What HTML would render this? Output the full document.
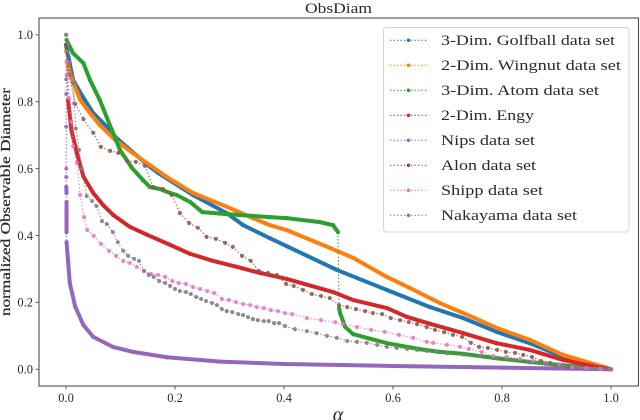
<!DOCTYPE html>
<html lang="en">
<head>
<meta charset="utf-8">
<title>ObsDiam</title>
<style>
html,body{margin:0;padding:0;background:#fff;width:640px;height:420px;overflow:hidden}
svg{display:block}
text{font-family:"Liberation Serif",serif;fill:#2b2b2b}
</style>
</head>
<body>
<svg id="chart" xmlns="http://www.w3.org/2000/svg" width="640" height="420" viewBox="0 0 640 420">
<defs><clipPath id="plot-clip"><rect x="39" y="18" width="600" height="368"/></clipPath></defs>
<rect x="39" y="18" width="600" height="368" fill="#fff"/>
<g id="series-layer" clip-path="url(#plot-clip)"></g>
<rect x="39" y="18" width="599.5" height="368" fill="none" stroke="#505050" stroke-width="1.1"/>
<g id="tick-layer"></g>
<text x="338.5" y="13" font-size="15" text-anchor="middle" textLength="67" lengthAdjust="spacingAndGlyphs">ObsDiam</text>
<text transform="translate(10,202) rotate(-90)" font-size="14" text-anchor="middle" textLength="228" lengthAdjust="spacingAndGlyphs" stroke="#2b2b2b" stroke-width="0.25">normalized Observable Diameter</text>
<text x="338" y="421" font-size="20" text-anchor="middle" font-style="italic">α</text>
<g id="legend-layer"></g>
</svg>
<script>
const xTicks = [0, 0.2, 0.4, 0.6, 0.8, 1];
const yTicks = [0, 0.2, 0.4, 0.6, 0.8, 1];

const golfballAlpha = [0,0.002,0.005,0.013,0.031,0.05,0.075,0.09,0.154,0.169,0.233,0.295,0.325,0.374,0.405,0.497,0.589,0.668,0.729,0.79,0.851,0.912,0.993,1];
const golfballValues = [0.97,0.95,0.93,0.865,0.814,0.766,0.725,0.695,0.605,0.587,0.521,0.467,0.431,0.392,0.368,0.297,0.237,0.186,0.153,0.112,0.078,0.037,0.004,0];

const wingnutAlpha = [0,0.002,0.005,0.01,0.02,0.026,0.044,0.062,0.09,0.123,0.185,0.233,0.295,0.343,0.374,0.405,0.484,0.527,0.589,0.631,0.686,0.729,0.79,0.851,0.912,0.993,1];
const wingnutValues = [0.95,0.92,0.9,0.87,0.83,0.805,0.766,0.73,0.686,0.646,0.575,0.527,0.486,0.452,0.431,0.416,0.363,0.333,0.276,0.243,0.198,0.168,0.124,0.088,0.043,0.004,0];

const atomAlpha = [0.001,0.013,0.032,0.044,0.062,0.084,0.099,0.121,0.141,0.154,0.172,0.191,0.203,0.228,0.25,0.295,0.374,0.405,0.466,0.49,0.499,0.501,0.503,0.512,0.527,0.589,0.65,0.686,0.729,0.79,0.851,0.912,0.993,1];
const atomValues = [0.985,0.945,0.915,0.865,0.805,0.716,0.656,0.602,0.566,0.545,0.539,0.527,0.521,0.5,0.47,0.464,0.455,0.452,0.44,0.431,0.41,0.183,0.168,0.127,0.105,0.078,0.06,0.052,0.046,0.033,0.022,0.012,0.001,0];

const engyAlpha = [0,0.002,0.004,0.01,0.02,0.032,0.05,0.068,0.087,0.117,0.149,0.191,0.228,0.27,0.314,0.356,0.405,0.49,0.527,0.589,0.625,0.668,0.729,0.79,0.851,0.912,0.974,1];
const engyValues = [0.97,0.88,0.805,0.715,0.646,0.576,0.527,0.491,0.461,0.426,0.402,0.372,0.345,0.324,0.306,0.288,0.27,0.231,0.207,0.183,0.157,0.136,0.108,0.078,0.058,0.028,0.007,0];

const nipsAlpha = [0.0005,0.0005,0.0005,0.0005,0.0005,0.0005,0.0005,0.001,0.001,0.001,0.001,0.001,0.001,0.001,0.001,0.001,0.001,0.004,0.007,0.017,0.032,0.05,0.086,0.123,0.185,0.283,0.4,0.6,0.8,1];
const nipsValues = [1,0.867,0.823,0.725,0.6,0.575,0.545,0.527,0.5,0.48,0.47,0.46,0.45,0.44,0.42,0.41,0.38,0.32,0.257,0.187,0.132,0.097,0.067,0.052,0.036,0.023,0.016,0.01,0.005,0];

const alonAlpha = [0,0.006,0.017,0.032,0.05,0.064,0.081,0.096,0.112,0.128,0.145,0.16,0.178,0.194,0.209,0.226,0.242,0.258,0.275,0.292,0.306,0.323,0.339,0.354,0.371,0.387,0.404,0.418,0.435,0.451,0.468,0.484,0.501,0.516,0.532,0.549,0.563,0.58,0.596,0.613,0.629,0.644,0.662,0.677,0.694,0.71,0.727,0.743,0.758,0.774,0.791,0.807,0.824,0.839,0.855,0.872,0.888,0.905,0.92,0.937,0.99,1];
const alonValues = [0.97,0.88,0.793,0.748,0.707,0.665,0.653,0.647,0.623,0.62,0.608,0.545,0.539,0.521,0.467,0.437,0.423,0.396,0.39,0.378,0.366,0.339,0.324,0.294,0.288,0.282,0.255,0.249,0.237,0.225,0.219,0.213,0.192,0.186,0.18,0.174,0.168,0.165,0.153,0.147,0.141,0.135,0.126,0.118,0.111,0.103,0.097,0.079,0.067,0.064,0.058,0.052,0.049,0.043,0.037,0.025,0.019,0.013,0.007,0.005,0.001,0];

const shippAlpha = [0.001,0.003,0.006,0.01,0.013,0.02,0.026,0.033,0.039,0.051,0.064,0.079,0.092,0.105,0.117,0.13,0.143,0.156,0.169,0.182,0.195,0.207,0.22,0.233,0.246,0.259,0.272,0.286,0.299,0.312,0.325,0.338,0.35,0.363,0.376,0.389,0.402,0.415,0.442,0.468,0.494,0.508,0.534,0.56,0.585,0.611,0.637,0.662,0.674,0.699,0.723,0.739,0.763,0.784,0.809,0.833,0.857,0.881,0.906,0.93,0.955,0.98,1];
const shippValues = [0.92,0.88,0.81,0.74,0.667,0.617,0.521,0.455,0.416,0.399,0.375,0.354,0.339,0.324,0.318,0.306,0.294,0.285,0.282,0.276,0.264,0.258,0.255,0.246,0.24,0.234,0.228,0.21,0.207,0.201,0.195,0.192,0.186,0.183,0.177,0.174,0.168,0.165,0.153,0.147,0.141,0.135,0.126,0.118,0.112,0.103,0.094,0.082,0.079,0.073,0.067,0.061,0.052,0.04,0.037,0.031,0.025,0.019,0.013,0.007,0.004,0.001,0];

const nakayamaAlpha = [0,0.004,0.007,0.013,0.015,0.018,0.024,0.029,0.038,0.048,0.056,0.066,0.075,0.086,0.095,0.105,0.114,0.125,0.134,0.143,0.152,0.161,0.171,0.182,0.191,0.2,0.209,0.22,0.229,0.239,0.248,0.257,0.268,0.277,0.286,0.295,0.305,0.316,0.325,0.334,0.343,0.352,0.363,0.372,0.382,0.391,0.402,0.42,0.442,0.46,0.479,0.497,0.516,0.534,0.552,0.571,0.589,0.607,0.626,0.644,0.662,0.68,0.7,0.73,0.76,0.79,0.82,0.85,0.88,0.91,0.94,0.97,1];
const nakayamaValues = [1,0.975,0.915,0.855,0.795,0.72,0.656,0.6,0.518,0.503,0.488,0.443,0.434,0.41,0.38,0.354,0.339,0.33,0.324,0.294,0.282,0.276,0.264,0.258,0.249,0.24,0.234,0.231,0.225,0.216,0.21,0.204,0.198,0.192,0.18,0.174,0.171,0.165,0.162,0.156,0.15,0.147,0.144,0.144,0.138,0.138,0.129,0.12,0.114,0.108,0.1,0.094,0.085,0.082,0.079,0.073,0.067,0.064,0.061,0.058,0.055,0.052,0.048,0.044,0.04,0.033,0.027,0.021,0.016,0.011,0.006,0.003,0];

const seriesLabels = ["3-Dim. Golfball data set","2-Dim. Wingnut data set","3-Dim. Atom data set","2-Dim. Engy","Nips data set","Alon data set","Shipp data set","Nakayama data set"];
const seriesAlpha = [golfballAlpha,wingnutAlpha,atomAlpha,engyAlpha,nipsAlpha,alonAlpha,shippAlpha,nakayamaAlpha];
const seriesValues = [golfballValues,wingnutValues,atomValues,engyValues,nipsValues,alonValues,shippValues,nakayamaValues];
const seriesColors = ["#1f77b4","#ff7f0e","#2ca02c","#d62728","#9467bd","#8c564b","#e377c2","#7f7f7f"];
const seriesDense = [true,true,true,true,true,false,false,false];
const legendWidths = [174,180,158,93,94,95,102,136];

const NS = "http://www.w3.org/2000/svg";
function xScale(a){ return 66 + 545 * a; }
function yScale(v){ return 369.3 - 334.5 * v; }
function make(tag, attrs, parent){
  const el = document.createElementNS(NS, tag);
  for (const k in attrs) el.setAttribute(k, attrs[k]);
  parent.appendChild(el);
  return el;
}

const tickLayer = document.getElementById("tick-layer");
xTicks.forEach(function(t){
  const x = xScale(t);
  const mark = make("line", {x1:x, x2:x, y1:386, y2:389.5, stroke:"#505050", "stroke-width":0.9}, tickLayer);
  
  
  const label = make("text", {x:x, y:402, "font-size":12.5, "text-anchor":"middle"}, tickLayer);
  
  
  label.textContent = t.toFixed(1);
});
yTicks.forEach(function(t){
  const y = yScale(t);
  const mark = make("line", {x1:35.5, x2:39, y1:y, y2:y, stroke:"#505050", "stroke-width":0.9}, tickLayer);
  
  
  const label = make("text", {x:33, y:y+4.3, "font-size":12.5, "text-anchor":"end"}, tickLayer);
  
  
  label.textContent = t.toFixed(1);
});

const seriesLayer = document.getElementById("series-layer");
seriesLabels.forEach(function(name, i){
  const g = make("g", {}, seriesLayer);
  
  
  const al = seriesAlpha[i], vs = seriesValues[i], color = seriesColors[i];
  for (let j = 1; j < al.length; j++) {
    const x1 = xScale(al[j-1]), y1 = yScale(vs[j-1]), x2 = xScale(al[j]), y2 = yScale(vs[j]);
    const steep = Math.abs(x2-x1) < 1.5 && Math.abs(y2-y1) > 7;
    const thick = seriesDense[i] && !steep;
    const seg = make("line", {x1:x1, y1:y1, x2:x2, y2:y2, stroke:color,
      "stroke-width": thick ? 4 : 1.1, "stroke-linecap": thick ? "round" : "butt",
      "stroke-dasharray": thick ? "none" : "1.3 2.2"}, g);
    
    
  }
  al.forEach(function(a, j){
    const dot = make("circle", {cx:xScale(a), cy:yScale(vs[j]), r:2.1, fill:color, "fill-opacity":0.85}, g);
    
    
  });
});

const legend = document.getElementById("legend-layer");
const box = make("rect", {x:383.5, y:27.5, width:245.5, height:204.5, rx:3, fill:"#fff", "fill-opacity":0.8, stroke:"#d4d4d4", "stroke-width":1}, legend);


seriesLabels.forEach(function(name, i){
  const cy = 40.3 + i * 25;
  const entry = make("g", {}, legend);
  
  
  const handle = make("line", {x1:390, x2:427, y1:cy, y2:cy, stroke:seriesColors[i], "stroke-width":1.1, "stroke-dasharray":"1.3 2.2"}, entry);
  
  
  const marker = make("circle", {cx:408.5, cy:cy, r:1.8, fill:seriesColors[i]}, entry);
  
  
  const label = make("text", {x:441, y:cy+4.5, "font-size":14.5, textLength:legendWidths[i], lengthAdjust:"spacingAndGlyphs"}, entry);
  
  
  label.textContent = name;
});
</script>
</body>
</html>
